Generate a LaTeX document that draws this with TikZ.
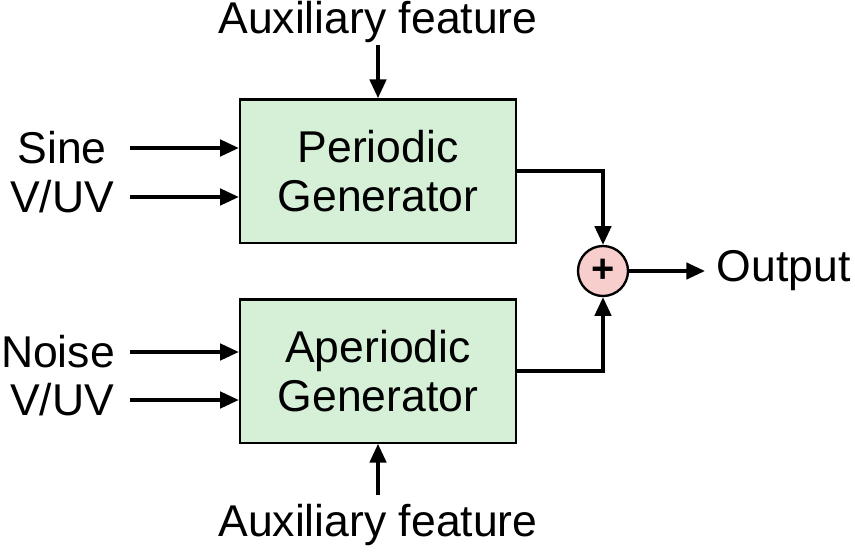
\documentclass[tikz,border=0pt]{standalone}
\usepackage{fontspec}
\setmainfont{Liberation Sans}
\usetikzlibrary{arrows.meta}
\definecolor{boxgreen}{RGB}{214,240,216}
\definecolor{sumpink}{RGB}{248,206,204}
\begin{document}
\begin{tikzpicture}[x=0.03cm, y=-0.03cm, line width=3pt,
    font=\fontsize{38}{42}\selectfont,
    block/.style={draw, fill=boxgreen, minimum width=8.28cm, minimum height=4.3cm, align=center, line width=2pt},
    label/.style={inner sep=0pt},
    sig/.style={-{Triangle[length=16pt, width=14pt]}}]

\useasboundingbox (0,0) rectangle (855,557);

% generators
\node[block] (per) at (378,171) {Periodic\\Generator};
\node[block] (aper) at (378,371) {Aperiodic\\Generator};

% summation
\node[draw, circle, fill=sumpink, minimum size=1.5cm, inner sep=0pt, line width=2pt,
      font=\fontsize{34}{38}\selectfont\bfseries] (sum) at (603,271) {+};

% labels
\node[label] (auxtop) at (378,22) {Auxiliary feature};
\node[label] (auxbot) at (378,525) {Auxiliary feature};
\node[label] (sine) at (62,148) {Sine};
\node[label] (vuvp) at (62,197) {V/UV};
\node[label] (noise) at (58,352) {Noise};
\node[label] (vuva) at (62,400) {V/UV};
\node[label, anchor=west] (out) at (715,271) {Output};

% input arrows
\coordinate (s1) at (130,148);
\coordinate (s2) at (130,197);
\coordinate (n1) at (130,352);
\coordinate (n2) at (130,400);
\coordinate (o1) at (705,271);
\draw[sig] (s1) -- (s1 -| per.west);
\draw[sig] (s2) -- (s2 -| per.west);
\draw[sig] (n1) -- (n1 -| aper.west);
\draw[sig] (n2) -- (n2 -| aper.west);

% auxiliary arrows
\coordinate (at) at (378,45);
\coordinate (ab) at (378,495);
\draw[sig] (at) -- (per.north);
\draw[sig] (ab) -- (aper.south);

% generator outputs
\draw[sig] (per.east) -| (sum.north);
\draw[sig] (aper.east) -| (sum.south);
\draw[sig] (sum.east) -- (o1);

\end{tikzpicture}
\end{document}
